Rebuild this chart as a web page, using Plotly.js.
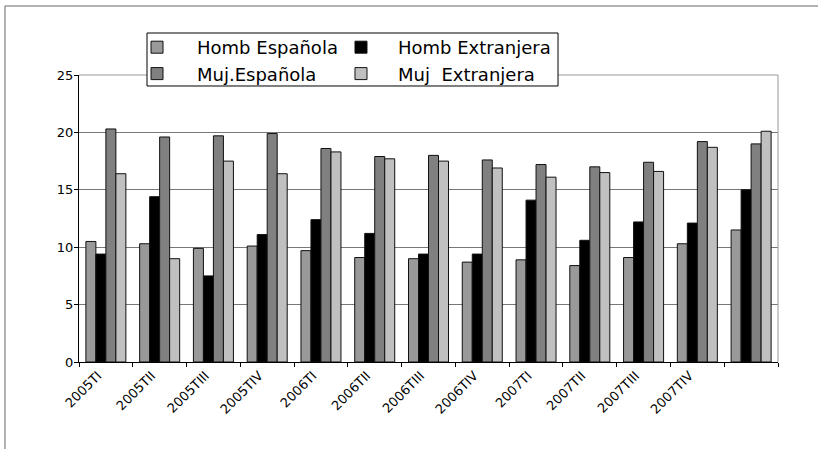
<!DOCTYPE html>
<html>
<head>
<meta charset="utf-8">
<script src="https://cdn.plot.ly/plotly-3.0.1.min.js"></script>
<style>
  html, body { margin: 0; padding: 0; background: #fff; }
  #chart { width: 818px; height: 449px; }
</style>
</head>
<body>
<div id="chart"></div>
<script>
const categories = ['2005TI','2005TII','2005TIII','2005TIV','2006TI','2006TII','2006TIII','2006TIV','2007TI','2007TII','2007TIII','2007TIV',' '];
const seriesNames = ['Homb Española', 'Homb Extranjera', 'Muj.Española', 'Muj\u00a0 Extranjera'];
const hombEspanola  = [10.5, 10.3, 9.9, 10.1, 9.7, 9.1, 9.0, 8.7, 8.9, 8.4, 9.1, 10.3, 11.5];
const hombExtranjera = [9.4, 14.4, 7.5, 11.1, 12.4, 11.2, 9.4, 9.4, 14.1, 10.6, 12.2, 12.1, 15.0];
const mujEspanola   = [20.3, 19.6, 19.7, 19.9, 18.6, 17.9, 18.0, 17.6, 17.2, 17.0, 17.4, 19.2, 19.0];
const mujExtranjera = [16.4, 9.0, 17.5, 16.4, 18.3, 17.7, 17.5, 16.9, 16.1, 16.5, 16.6, 18.7, 20.1];
const yTicks = [0, 5, 10, 15, 20, 25];

const FONT = 'DejaVu Sans, Arial, sans-serif';

function bar(name, values, color, legendId) {
  return {
    type: 'bar',
    name: name,
    x: categories,
    y: values,
    legend: legendId,
    marker: { color: color, line: { color: '#111', width: 1 } },
    hoverinfo: 'skip'
  };
}

const data = [
  bar(seriesNames[0], hombEspanola, '#999999', 'legend'),
  bar(seriesNames[1], hombExtranjera, '#000000', 'legend2'),
  bar(seriesNames[2], mujEspanola, '#808080', 'legend'),
  bar(seriesNames[3], mujExtranjera, '#c0c0c0', 'legend2')
];

const layout = {
  width: 818,
  height: 449,
  margin: { l: 79, r: 40, t: 75, b: 87, pad: 0 },
  paper_bgcolor: '#ffffff',
  plot_bgcolor: '#ffffff',
  font: { family: FONT, size: 13, color: '#000' },
  barmode: 'group',
  bargap: 0.256,
  bargroupgap: 0,
  xaxis: {
    type: 'category',
    categoryorder: 'array',
    categoryarray: categories,
    tickson: 'boundaries',
    ticks: 'outside',
    ticklen: 4,
    tickcolor: '#000',
    tickangle: -45,
    ticklabelshift: -8,
    showline: true,
    linecolor: '#000',
    linewidth: 1,
    showgrid: false,
    zeroline: false,
    tickfont: { family: FONT, size: 13, color: '#000' }
  },
  yaxis: {
    range: [0, 25],
    tickvals: yTicks,
    ticktext: yTicks.map(String),
    ticks: 'outside',
    ticklen: 4,
    tickcolor: '#000',
    ticklabelstandoff: -2,
    showline: true,
    linecolor: '#000',
    linewidth: 1,
    showgrid: true,
    gridcolor: '#777777',
    gridwidth: 1,
    zeroline: false,
    tickfont: { family: FONT, size: 13, color: '#000' }
  },
  showlegend: true,
  legend: {
    x: 0.0544, xanchor: 'left', xref: 'paper',
    y: 1.1603, yanchor: 'top', yref: 'paper',
    orientation: 'v',
    bgcolor: 'rgba(0,0,0,0)',
    borderwidth: 0,
    itemwidth: 70,
    font: { family: FONT, size: 18, color: '#000' }
  },
  legend2: {
    x: 0.3505, xanchor: 'left', xref: 'paper',
    y: 1.1603, yanchor: 'top', yref: 'paper',
    orientation: 'v',
    bgcolor: 'rgba(0,0,0,0)',
    borderwidth: 0,
    itemwidth: 64,
    font: { family: FONT, size: 18, color: '#000' }
  },
  shapes: [
    { type: 'line', xref: 'paper', yref: 'paper', x0: -0.10587, x1: 1.06, y0: 1.2404, y1: 1.2404, line: { color: '#666', width: 1 } },
    { type: 'line', xref: 'paper', yref: 'paper', x0: -0.10587, x1: -0.10587, y0: 1.2404, y1: -0.31, line: { color: '#666', width: 1 } },
    { type: 'line', xref: 'paper', yref: 'paper', x0: 0, x1: 1, y0: 1, y1: 1, line: { color: '#999', width: 1 }, layer: 'above' },
    { type: 'line', xref: 'paper', yref: 'paper', x0: 1, x1: 1, y0: 0, y1: 1, line: { color: '#999', width: 1 }, layer: 'above' },
    { type: 'rect', xref: 'paper', yref: 'paper', x0: 0.0973, x1: 0.6853, y0: 0.9617, y1: 1.1463, fillcolor: '#ffffff', line: { color: '#000', width: 1 }, layer: 'above' }
  ]
};

Plotly.newPlot('chart', data, layout, { staticPlot: true, displayModeBar: false });
</script>
</body>
</html>
